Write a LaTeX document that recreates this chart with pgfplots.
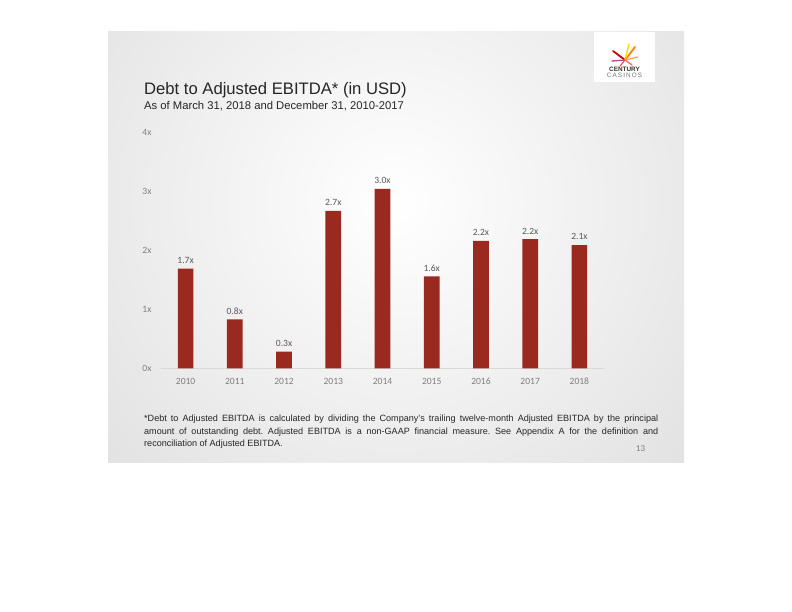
\documentclass[border=0pt]{standalone}
\usepackage{pgfplots}
\pgfplotsset{compat=1.18}
\usepackage{fontspec}
\setmainfont{Liberation Sans}
\newfontfamily\calib{Carlito}
\definecolor{barred}{HTML}{9A2A1F}
\definecolor{ticklab}{HTML}{7F7F7F}
\definecolor{vallab}{HTML}{595959}
\definecolor{titlec}{HTML}{262626}
\begin{document}
\begin{tikzpicture}
\useasboundingbox (0,0) rectangle (792bp,612bp);
\fill[white] (0,0) rectangle (792bp,612bp);
% slide background
\begin{scope}
\clip (108bp,149bp) rectangle (684bp,580bp);
\shade[inner color=white, outer color=gray!36] (395bp,410bp) circle (620bp);
\end{scope}
% logo
\fill[white] (594bp,530bp) rectangle (655bp,580bp);
\begin{scope}[line cap=round]
\draw[line width=1.8bp, red!80!black] (625bp,552bp) -- (613bp,561bp);
\draw[line width=1.8bp, orange] (625bp,552bp) -- (635bp,565bp);
\draw[line width=1.5bp, yellow!80!orange] (625bp,552bp) -- (629bp,568bp);
\draw[line width=1.3bp, violet!70] (625bp,552bp) -- (612bp,551bp);
\draw[line width=1.3bp, red!60] (625bp,552bp) -- (632bp,547bp);
\draw[line width=1.1bp, orange!80] (625bp,552bp) -- (638bp,555bp);
\draw[line width=1.1bp, red!70] (625bp,552bp) -- (620bp,546bp);
\end{scope}
\node[anchor=base, inner sep=0pt, font=\fontsize{6.4}{7}\selectfont\bfseries, text=black!80] at (624.5bp,540bp) {CENTURY};
\node[anchor=base, inner sep=0pt, font=\fontsize{6.4}{7}\selectfont, text=black!55] at (624.5bp,534bp) {C\,A\,S\,I\,N\,O\,S};
% titles
\node[anchor=base west, inner sep=0pt, text=titlec, font=\fontsize{16.7}{19}\selectfont] at (144bp,517bp) {Debt to Adjusted EBITDA* (in USD)};
\node[anchor=base west, inner sep=0pt, text=titlec, font=\fontsize{11.3}{13}\selectfont] at (144bp,502.5bp) {As of March 31, 2018 and December 31, 2010-2017};
% chart
\begin{axis}[
  at={(161bp,243.5bp)}, anchor=south west,
  scale only axis, width=443bp, height=236.2bp,
  xmin=-0.5, xmax=8.5, ymin=0, ymax=4,
  axis x line*=bottom, axis y line*=left,
  x axis line style={draw=gray!30, line width=0.8bp, -},
  y axis line style={draw=none},
  major tick length=0pt,
  xtick={0,...,8},
  xticklabels={2010,2011,2012,2013,2014,2015,2016,2017,2018},
  ytick={0,1,2,3,4},
  yticklabels={0x,1x,2x,3x,4x},
  tick label style={font=\calib\fontsize{9.6}{11}\selectfont, text=ticklab},
  xticklabel style={yshift=-6bp},
  yticklabel style={xshift=-6bp},
  /pgf/number format/assume math mode=true,
  clip=false,
]
\addplot[ybar, bar width=15.7bp, fill=barred, draw=none,
  nodes near coords={\pgfmathprintnumber[fixed,fixed zerofill,precision=1,assume math mode=true]{\pgfplotspointmeta}x},
  every node near coord/.append style={font=\calib\fontsize{9.6}{11}\selectfont, text=vallab, yshift=1.5bp}]
coordinates {(0,1.69) (1,0.83) (2,0.285) (3,2.67) (4,3.04) (5,1.56) (6,2.16) (7,2.19) (8,2.09)};
\end{axis}
% footnote
\node[anchor=north west, inner sep=0pt, text width=514bp, align=justify, text=titlec,
  font=\fontsize{9.1}{12.5}\selectfont] at (144bp,197bp)
  {\frenchspacing *Debt to Adjusted EBITDA is calculated by dividing the Company's trailing twelve-month Adjusted EBITDA by the principal\linebreak amount of outstanding debt. Adjusted EBITDA is a non-GAAP financial measure. See Appendix A for the definition and\linebreak reconciliation of Adjusted EBITDA.};
\node[anchor=base, inner sep=0pt, font=\calib\fontsize{9}{11}\selectfont, text=ticklab] at (640.5bp,160bp) {13};
\end{tikzpicture}
\end{document}
